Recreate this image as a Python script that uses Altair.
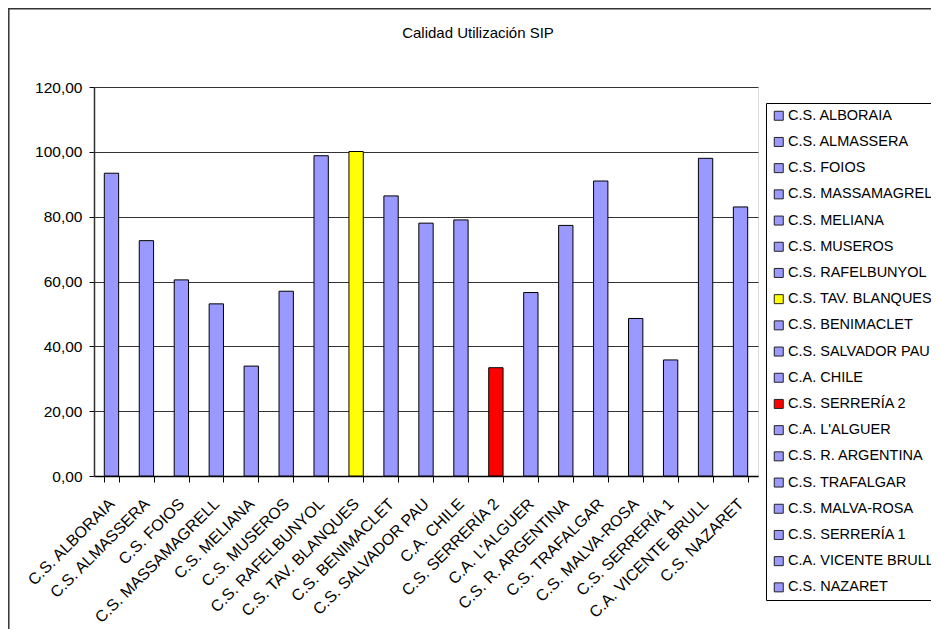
import altair as alt
import pandas as pd

centros = ["C.S. ALBORAIA", "C.S. ALMASSERA", "C.S. FOIOS", "C.S. MASSAMAGRELL",
           "C.S. MELIANA", "C.S. MUSEROS", "C.S. RAFELBUNYOL", "C.S. TAV. BLANQUES",
           "C.S. BENIMACLET", "C.S. SALVADOR PAU", "C.A. CHILE", "C.S. SERRERÍA 2",
           "C.A. L'ALGUER", "C.S. R. ARGENTINA", "C.S. TRAFALGAR", "C.S. MALVA-ROSA",
           "C.S. SERRERÍA 1", "C.A. VICENTE BRULL", "C.S. NAZARET"]
valores = [93.4, 72.6, 60.5, 53.1, 33.9, 57.0, 98.8, 100.1, 86.4, 78.0,
           79.0, 33.4, 56.6, 77.3, 91.0, 48.6, 35.8, 98.0, 83.0]
colores = ["#9999FF"] * 7 + ["#FFFF00"] + ["#9999FF"] * 3 + ["#FF0000"] + ["#9999FF"] * 7
y_ticks = [0, 20, 40, 60, 80, 100, 120]
titulo = "Calidad Utilización SIP"

df = pd.DataFrame({"centro": centros, "valor": valores})

FONT = "Liberation Sans"
W, H = 664, 389
PL, PT = 86, 79
PR = 923 - PL - W
PB = 621 - PT - H

bars = alt.Chart(df).mark_bar(stroke="black", strokeWidth=1).encode(
    x=alt.X("centro:N", sort=centros,
            scale=alt.Scale(paddingInner=0.59, paddingOuter=0.295),
            axis=alt.Axis(title=None, labelAngle=-45, labelAlign="right",
                          labelBaseline="middle", tickBand="extent", tickSize=6,
                          labelPadding=19, domainColor="black", domainWidth=1.5,
                          tickColor="black", labelFontSize=16, labelFont=FONT,
                          labelColor="black", grid=False, labelOverlap=False,
                          labelLimit=300)),
    y=alt.Y("valor:Q", scale=alt.Scale(domain=[0, 120], nice=False),
            axis=alt.Axis(values=y_ticks, title=None,
                          labelExpr="replace(format(datum.value, '.2f'), '.', ',')",
                          grid=True, gridColor="#333333", gridWidth=1.2,
                          tickSize=5, tickColor="black", labelPadding=7,
                          domainColor="#333333", domainWidth=1.5,
                          labelFontSize=15.5, labelFont=FONT, labelColor="black")),
    color=alt.Color("centro:N", sort=centros,
                    scale=alt.Scale(domain=centros, range=colores),
                    legend=alt.Legend(orient="none", legendX=672, legendY=16,
                                      title=None, strokeColor="black",
                                      fillColor="white", padding=5.5,
                                      rowPadding=11.2, symbolType="square",
                                      symbolSize=81, symbolStrokeColor="#222222",
                                      symbolStrokeWidth=1, symbolOpacity=1,
                                      labelFontSize=14.5, labelFont=FONT,
                                      labelColor="black", labelOffset=2,
                                      labelLimit=300))
)

frame_df = pd.DataFrame({"a": [0]})
left_rule = alt.Chart(frame_df).mark_rule(color="#333333", strokeWidth=1.5).encode(
    x=alt.value(-PL + 0.8), y=alt.value(-PT), y2=alt.value(H + PB))
top_rule = alt.Chart(frame_df).mark_rule(color="#333333", strokeWidth=1.5).encode(
    x=alt.value(-PL), x2=alt.value(W + PR), y=alt.value(-PT + 0.8))

chart = alt.layer(bars, left_rule, top_rule).properties(
    width=W, height=H,
    title=alt.Title(titulo, fontSize=15, font=FONT, fontWeight="normal",
                    color="black", anchor="middle", dx=52, offset=-33.5),
    autosize=alt.AutoSizeParams(type="none"),
    padding={"left": PL, "top": PT, "right": PR, "bottom": PB},
).configure_view(fill="#C0C0C0", stroke="#555555", strokeWidth=1.5
).configure(background="white")

chart.save("out.html", embed_options={"renderer": "svg", "actions": False})
